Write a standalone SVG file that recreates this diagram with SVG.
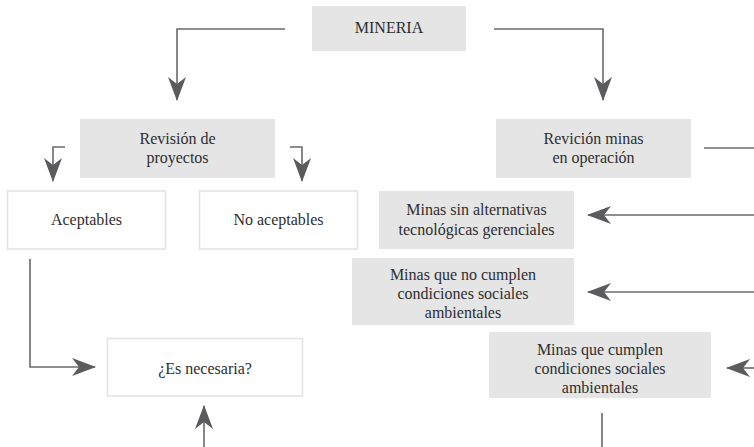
<svg xmlns="http://www.w3.org/2000/svg" width="754" height="447" viewBox="0 0 754 447">
  <defs>
    <marker id="ah" markerUnits="userSpaceOnUse" markerWidth="24" markerHeight="18" viewBox="0 0 24 18" refX="23" refY="9" orient="auto">
      <path d="M0,0 L24,9 L0,18 L7,9 Z" fill="#5b5b5d"/>
    </marker>
  </defs>
  <style>
    .g { fill: #e5e5e6; }
    .w { fill: #ffffff; stroke: #e2e2e2; stroke-width: 1.5; }
    text { font-family: "Liberation Serif", "Times New Roman", Times, "DejaVu Serif", serif; font-size: 16px; fill: #2e2e2e; text-anchor: middle; }
    .c { fill: none; stroke: #6a6a6c; stroke-width: 1.6; }
    .a { marker-end: url(#ah); }
  </style>
  <rect width="754" height="447" fill="#ffffff"/>

  <g id="connectors">
    <path class="c a" d="M285,29 H177 V100"/>
    <path class="c a" d="M494,29 H603 V100"/>
    <path class="c a" d="M65,147 H53 V181"/>
    <path class="c a" d="M290,147 H302 V181"/>
    <path class="c a" d="M30,259 V367 H95"/>
    <path class="c" d="M704,148 H754"/>
    <path class="c a" d="M754,215 H588"/>
    <path class="c a" d="M754,292 H588"/>
    <path class="c a" d="M754,368 H727"/>
    <path class="c" d="M602,413 V447"/>
    <path class="c a" d="M204,447 V406"/>
  </g>

  <g id="mineria">
    <rect class="g" x="312" y="6" width="154" height="45"/>
    <text x="389" y="33" font-family="Liberation Serif, serif">MINERIA</text>
  </g>

  <g id="revision-proyectos">
    <rect class="g" x="80" y="119" width="195" height="59"/>
    <text x="177.5" y="144">Revisión de</text>
    <text x="177.5" y="163">proyectos</text>
  </g>

  <g id="revicion-minas">
    <rect class="g" x="496" y="119" width="195" height="59"/>
    <text x="593.5" y="144">Revición minas</text>
    <text x="593.5" y="163">en operación</text>
  </g>

  <g id="aceptables">
    <rect class="w" x="7.5" y="191" width="158" height="58"/>
    <text x="86.5" y="225">Aceptables</text>
  </g>

  <g id="no-aceptables">
    <rect class="w" x="199.5" y="191" width="158" height="58"/>
    <text x="278.5" y="225">No aceptables</text>
  </g>

  <g id="minas-sin-alternativas">
    <rect class="g" x="379" y="191" width="195" height="58"/>
    <text x="476.5" y="215">Minas sin alternativas</text>
    <text x="476.5" y="235">tecnológicas gerenciales</text>
  </g>

  <g id="minas-no-cumplen">
    <rect class="g" x="352" y="258" width="222" height="67"/>
    <text x="463" y="280">Minas que no cumplen</text>
    <text x="463" y="299">condiciones sociales</text>
    <text x="463" y="318">ambientales</text>
  </g>

  <g id="minas-cumplen">
    <rect class="g" x="489" y="332" width="222" height="66"/>
    <text x="600" y="355">Minas que cumplen</text>
    <text x="600" y="374">condiciones sociales</text>
    <text x="600" y="393">ambientales</text>
  </g>

  <g id="es-necesaria">
    <rect class="w" x="107.5" y="338.5" width="195" height="57.5"/>
    <text x="205" y="373.5">¿Es necesaria?</text>
  </g>
</svg>
